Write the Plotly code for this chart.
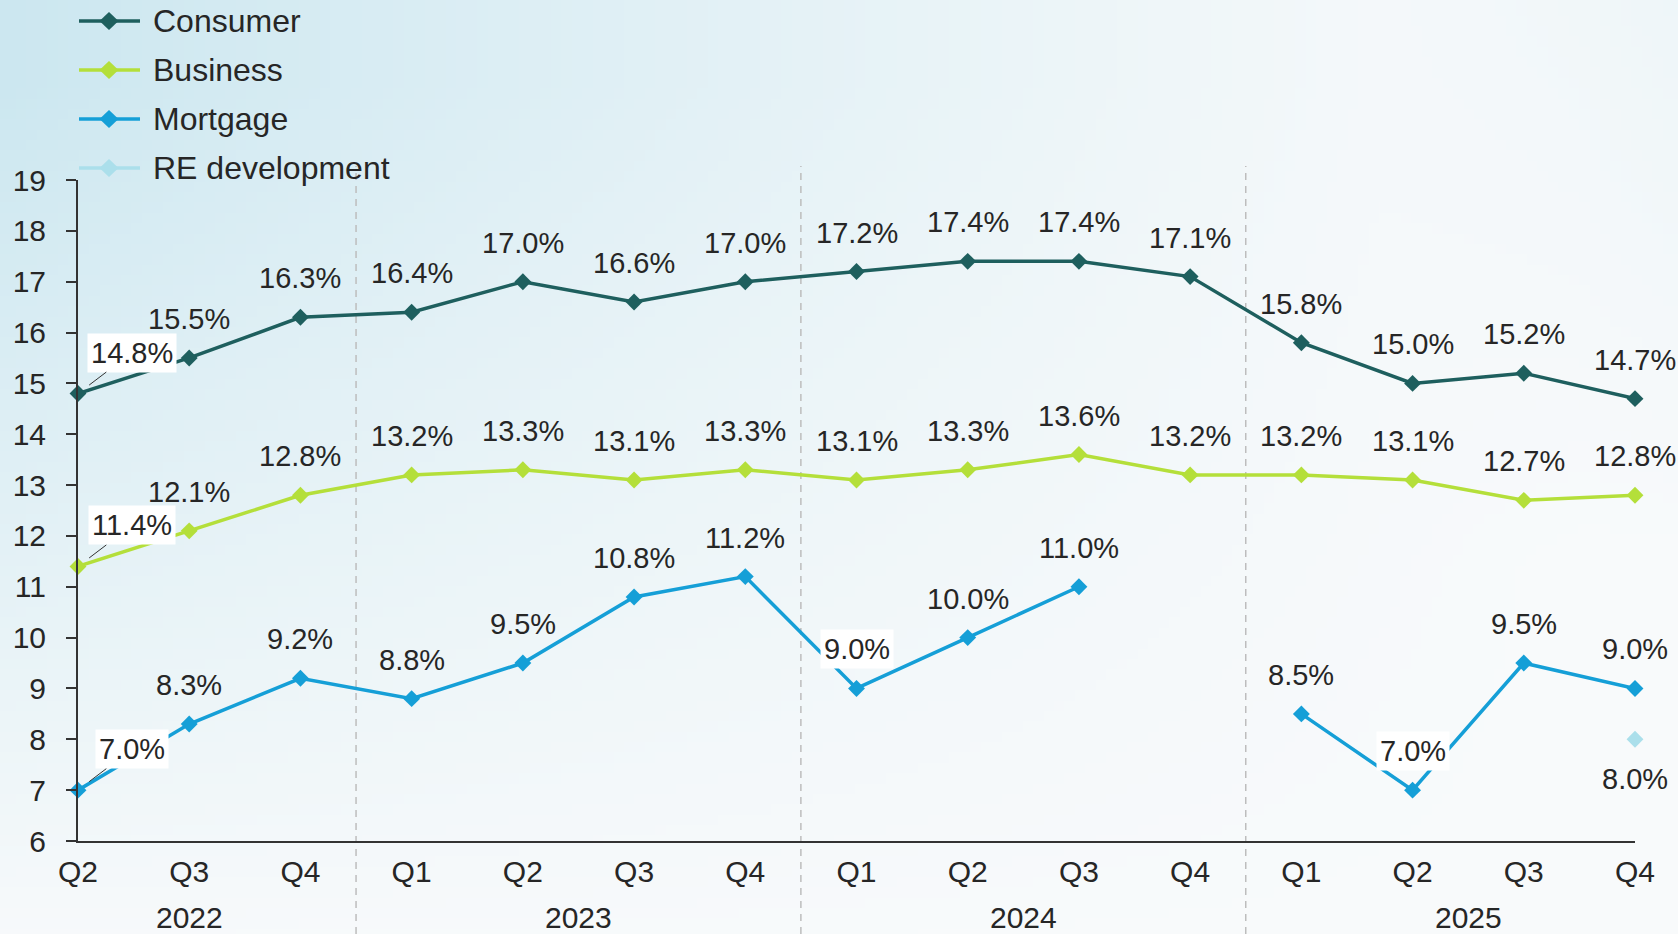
import base64
import struct
import zlib

import numpy as np
import plotly.graph_objects as go

# ---------------- data ----------------
quarters = ["Q2", "Q3", "Q4", "Q1", "Q2", "Q3", "Q4", "Q1", "Q2", "Q3", "Q4", "Q1", "Q2", "Q3", "Q4"]
quarter_years = ["2022"] * 3 + ["2023"] * 4 + ["2024"] * 4 + ["2025"] * 4
years = ["2022", "2023", "2024", "2025"]

consumer = [14.8, 15.5, 16.3, 16.4, 17.0, 16.6, 17.0, 17.2, 17.4, 17.4, 17.1, 15.8, 15.0, 15.2, 14.7]
business = [11.4, 12.1, 12.8, 13.2, 13.3, 13.1, 13.3, 13.1, 13.3, 13.6, 13.2, 13.2, 13.1, 12.7, 12.8]
mortgage = [7.0, 8.3, 9.2, 8.8, 9.5, 10.8, 11.2, 9.0, 10.0, 11.0, None, 8.5, 7.0, 9.5, 9.0]
re_development = [None] * 14 + [8.0]

series_names = ["Consumer", "Business", "Mortgage", "RE development"]

# ---------------- style ----------------
W, H = 1678, 934
COLORS = {"Consumer": "#1e5f5e", "Business": "#b4df3a", "Mortgage": "#159fd7", "RE development": "#abdfeb"}
TXT = "#262626"
FONT = "Liberation Sans, Arial, sans-serif"
LBL = 29
TICK = 30

PLOT_L, PLOT_R, PLOT_T, PLOT_B = 78, 1635, 180, 841


def px_x(p):
    return p / W


def px_y(p):
    return 1 - p / H


# ---------------- background gradient image ----------------
def png_bytes(arr):
    h, w, _ = arr.shape
    raw = b"".join(b"\x00" + arr[r].tobytes() for r in range(h))

    def chunk(t, d):
        c = struct.pack(">I", len(d)) + t + d
        return c + struct.pack(">I", zlib.crc32(t + d) & 0xFFFFFFFF)

    return (b"\x89PNG\r\n\x1a\n"
            + chunk(b"IHDR", struct.pack(">IIBBBBB", w, h, 8, 2, 0, 0, 0))
            + chunk(b"IDAT", zlib.compress(raw, 9))
            + chunk(b"IEND", b""))


gw, gh = 160, 90
gx = np.linspace(0, 1, gw)[None, :]
gy = np.linspace(0, 1, gh)[:, None]
wgt = np.clip(1 - gx / 0.95, 0, 1) ** 1.2 * np.clip(1 - (gy - 0.08) / 0.95, 0, 1) ** 1.0
wgt = np.clip(wgt, 0, 1)
wgt2 = 0.22 * np.clip((gx - 0.82) / 0.18, 0, 1) * np.clip(1 - gy / 0.6, 0, 1)
wgt = np.clip(wgt + wgt2, 0, 1)
blue = np.array([204, 231, 240], dtype=float)
base = np.array([248, 250, 251], dtype=float)
img = (base[None, None, :] * (1 - wgt[..., None]) + blue[None, None, :] * wgt[..., None]).round().astype(np.uint8)
bg_src = "data:image/png;base64," + base64.b64encode(png_bytes(img)).decode()

# ---------------- figure ----------------
x_idx = list(range(len(quarters)))
fig = go.Figure()

series_values = {"Consumer": consumer, "Business": business, "Mortgage": mortgage, "RE development": re_development}
for name in series_names:
    vals = series_values[name]
    fig.add_trace(go.Scatter(
        x=x_idx, y=vals, name=name,
        mode="markers" if name == "RE development" else "lines+markers",
        line=dict(color=COLORS[name], width=3.5),
        marker=dict(symbol="diamond", size=13, color=COLORS[name]),
        connectgaps=False, cliponaxis=False, showlegend=False,
        hovertemplate="%{y:.1f}%<extra>" + name + "</extra>",
    ))

# data labels
special = {
    ("Consumer", 0): "lead", ("Business", 0): "lead", ("Mortgage", 0): "lead",
    ("Mortgage", 7): "box", ("Mortgage", 12): "box",
    ("RE development", 14): "below",
}
annotations = []
for name in series_names:
    vals = series_values[name]
    for i, v in enumerate(vals):
        if v is None:
            continue
        kind = special.get((name, i), "above")
        base_ann = dict(x=i, y=v, xref="x", yref="y", text=f"{v:.1f}%",
                        font=dict(family=FONT, size=LBL, color=TXT))
        if kind == "lead":
            base_ann.update(showarrow=True, ax=54, ay=-41, arrowhead=0, arrowwidth=1,
                            arrowcolor="#333333", standoff=14, bgcolor="white", borderpad=3)
        elif kind == "box":
            base_ann.update(showarrow=False, yshift=39, bgcolor="white", borderpad=3)
        elif kind == "below":
            base_ann.update(showarrow=False, yshift=-40)
        else:
            base_ann.update(showarrow=False, yshift=39)
        annotations.append(base_ann)

# year labels and dividers
shapes = []
for yr in years:
    idxs = [i for i, q in enumerate(quarter_years) if q == yr]
    annotations.append(dict(x=sum(idxs) / len(idxs), xref="x", y=px_y(917), yref="paper",
                            text=yr, showarrow=False, yanchor="middle",
                            font=dict(family=FONT, size=TICK, color=TXT)))
for i in range(1, len(quarter_years)):
    if quarter_years[i] != quarter_years[i - 1]:
        shapes.append(dict(type="line", xref="x", yref="paper", x0=i - 0.5, x1=i - 0.5,
                           y0=0, y1=px_y(166), layer="below",
                           line=dict(color="#bdbdbd", width=1.5, dash="7px,6px")))

# manual legend
for k, name in enumerate(series_names):
    yc = 21 + k * 49
    shapes.append(dict(type="line", xref="paper", yref="paper", x0=px_x(79), x1=px_x(140),
                       y0=px_y(yc), y1=px_y(yc), line=dict(color=COLORS[name], width=3.5)))
    shapes.append(dict(type="path", xref="paper", yref="paper", xsizemode="pixel", ysizemode="pixel",
                       xanchor=px_x(109), yanchor=px_y(yc), path="M -9.5 0 L 0 9 L 9.5 0 L 0 -9 Z",
                       fillcolor=COLORS[name], line=dict(width=0)))
    annotations.append(dict(x=px_x(151), y=px_y(yc), xref="paper", yref="paper", text=name,
                            showarrow=False, xanchor="left", yanchor="middle",
                            font=dict(family=FONT, size=32, color=TXT)))

fig.update_layout(
    width=W, height=H,
    margin=dict(l=0, r=0, t=0, b=0, autoexpand=False),
    paper_bgcolor="#f4f9fa", plot_bgcolor="rgba(0,0,0,0)",
    font=dict(family=FONT, size=LBL, color=TXT),
    showlegend=False,
    images=[dict(source=bg_src, xref="paper", yref="paper", x=0, y=1, sizex=1, sizey=1,
                 xanchor="left", yanchor="top", sizing="stretch", layer="below")],
    annotations=annotations, shapes=shapes,
    xaxis=dict(domain=[px_x(PLOT_L), px_x(PLOT_R)], range=[0, len(quarters) - 1],
               tickmode="array", tickvals=x_idx, ticktext=quarters, ticks="",
               showline=True, linecolor="#333333", linewidth=2, showgrid=False, zeroline=False,
               tickfont=dict(family=FONT, size=TICK, color=TXT), ticklabelstandoff=3, automargin=False),
    yaxis=dict(domain=[px_y(PLOT_B), px_y(PLOT_T)], range=[6, 19], dtick=1, tick0=6,
               ticks="outside", ticklen=10, tickwidth=2, tickcolor="#333333",
               showline=True, linecolor="#333333", linewidth=2, showgrid=False, zeroline=False,
               tickfont=dict(family=FONT, size=TICK, color=TXT), ticklabelstandoff=14, automargin=False),
)

fig.write_html("out.html", config={"displayModeBar": False},
               post_script="document.body.style.margin='0px';document.body.style.overflow='hidden';")
